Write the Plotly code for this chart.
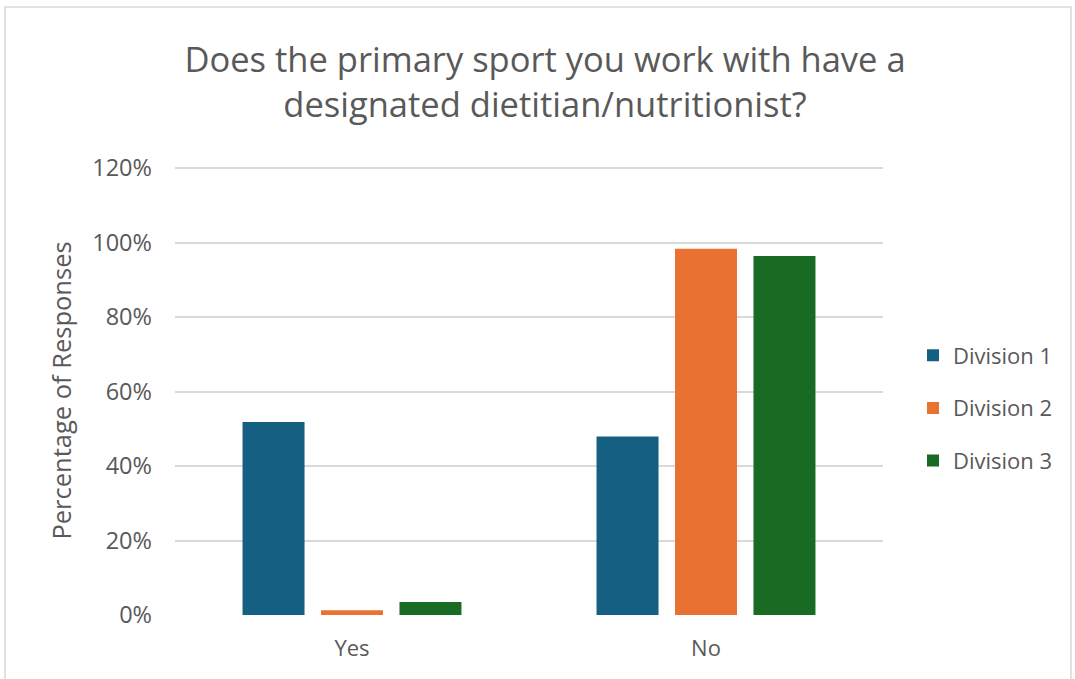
import plotly.graph_objects as go

categories = ["Yes", "No"]
division_1 = [0.518, 0.479]
division_2 = [0.013, 0.983]
division_3 = [0.035, 0.964]
series_names = ["Division 1", "Division 2", "Division 3"]
series_colors = ["#156082", "#E97132", "#196B24"]
tick_values = [0, 0.2, 0.4, 0.6, 0.8, 1.0, 1.2]
tick_labels = ["0%", "20%", "40%", "60%", "80%", "100%", "120%"]

W, H = 1075, 679
left, right, top, bottom = 175, 883, 166, 615
y_max = 1.2 * (bottom - top) / 447.0
text_color = "#595959"
font_family = "Open Sans, Liberation Sans, sans-serif"

fig = go.Figure()
for name, vals, color in zip(series_names, [division_1, division_2, division_3], series_colors):
    fig.add_trace(go.Bar(
        x=categories, y=vals, name=name,
        marker=dict(color=color, line=dict(width=0)),
        legendgroup=name,
    ))

pw = right - left
ph = bottom - top

fig.update_layout(
    width=W, height=H,
    margin=dict(l=left, r=W - right, t=top, b=H - bottom, pad=0),
    paper_bgcolor="white", plot_bgcolor="white",
    barmode="group", bargap=0.335, bargroupgap=0.21,
    font=dict(family=font_family, color=text_color),
    title=dict(
        text="Does the primary sport you work with have a<br>designated dietitian/nutritionist?",
        x=(545 - left) / pw, xref="paper", xanchor="center",
        y=1 - 72 / H, yref="container", yanchor="middle",
        font=dict(size=34.5, color=text_color, family=font_family),
    ),
    xaxis=dict(
        showgrid=False, showline=False, zeroline=False, ticks="",
        tickfont=dict(size=22, color=text_color), ticklabelstandoff=18,
    ),
    yaxis=dict(
        range=[0, y_max], tickvals=tick_values, ticktext=tick_labels,
        showgrid=True, gridcolor="#D9D9D9", gridwidth=1.5,
        zeroline=False, showline=False, ticks="",
        tickfont=dict(size=23.5, color=text_color), ticklabelstandoff=22,
        title=dict(text="Percentage of Responses", font=dict(size=25.5, color=text_color), standoff=13),
    ),
    legend=dict(
        x=(913 - left) / pw, xanchor="left", y=(bottom - 408) / ph, yanchor="middle",
        font=dict(size=22, color=text_color), tracegroupgap=21,
        itemwidth=30, bgcolor="rgba(0,0,0,0)",
    ),
    shapes=[dict(
        type="rect", xref="paper", yref="paper",
        x0=(5 - left) / pw, x1=(1071 - left) / pw,
        y0=(bottom - 690) / ph, y1=(bottom - 7) / ph,
        line=dict(color="#D9D9D9", width=1.5), fillcolor="rgba(0,0,0,0)", layer="below",
    )],
)

fig.write_html("out.html")
